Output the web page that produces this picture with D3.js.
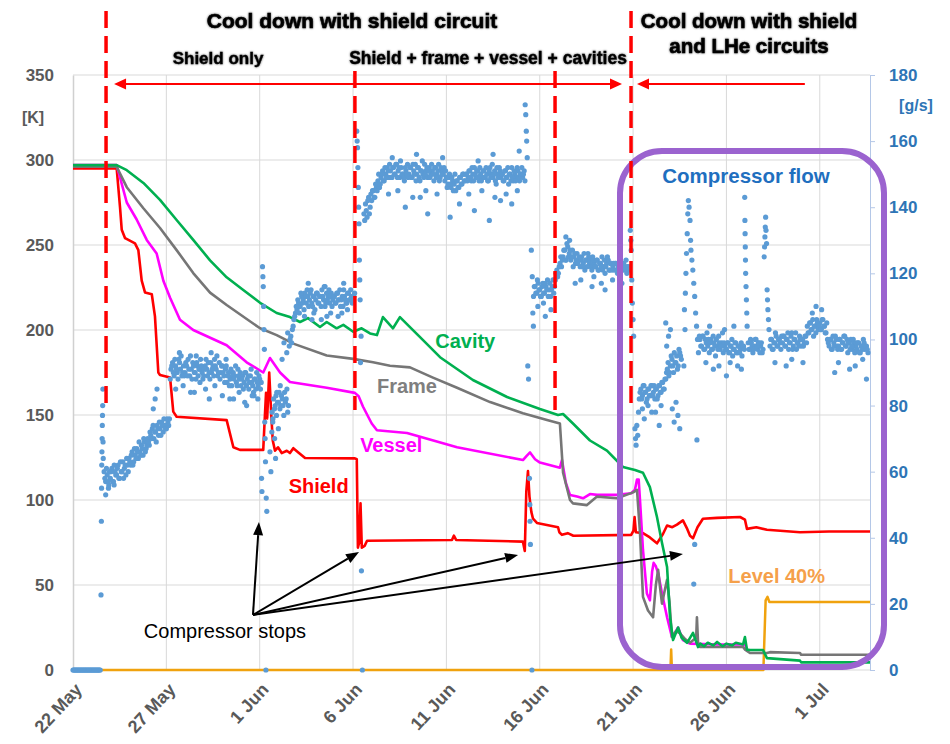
<!DOCTYPE html>
<html><head><meta charset="utf-8">
<script src="https://cdn.jsdelivr.net/npm/d3@7"></script>
<style>
html,body{margin:0;padding:0;background:#fff;}
svg{display:block;font-family:"Liberation Sans",Arial,sans-serif;}
</style></head><body>
<svg id="chart" width="950" height="744"></svg>
<script>
// ---------- time base (values below are fractional days since 22 May) ----------
const startDate = Date.UTC(2017, 4, 22);
const dayMs = 864e5;
const spanDays = 42.69;

// ---------- axis ticks ----------
const dateTicks = [0, 5, 10, 15, 20, 25, 30, 35, 40];
const dateTickLabels = ["22 May", "27 May", "1 Jun", "6 Jun", "11 Jun", "16 Jun", "21 Jun", "26 Jun", "1 Jul"];
const tempTicks = [0, 50, 100, 150, 200, 250, 300, 350];
const flowTicks = [0, 20, 40, 60, 80, 100, 120, 140, 160, 180];

// ---------- temperatures [day, K] ----------
const shield = [[0,295],[2.34,295],[2.52,272],[2.61,259],[2.79,254],[3.32,251],[3.50,247],[3.68,229],[3.86,222],[4.22,221],[4.39,208],[4.57,175],[4.66,173.5],[5.20,172],[5.37,152],[5.55,149],[8.23,147],[8.59,131],[8.94,129.5],[10.19,129.5],[10.28,150],[10.34,163],[10.40,148],[10.51,175],[10.62,150],[10.70,135],[10.82,129],[10.98,131],[11.18,127.6],[11.45,129],[11.62,127.6],[11.80,130.5],[12.07,128],[12.43,124.7],[15.10,124.5],[15.20,124],[15.26,72],[15.33,75],[15.40,98],[15.47,72],[15.62,73],[15.75,76],[20.30,76.5],[20.40,79],[20.52,76.5],[24.10,75.5],[24.20,70],[24.28,105],[24.37,117],[24.45,102],[24.55,93],[24.64,89],[24.85,86.5],[25.98,84],[26.05,81],[26.19,79.5],[26.50,80.5],[26.80,79],[29.90,79.5],[30.02,82],[30.08,90],[30.15,81],[30.53,80.5],[30.90,78],[31.28,74.5],[31.60,80],[31.82,85],[32.10,84],[32.35,85.5],[32.67,88],[32.90,83],[33.05,79],[33.21,77.5],[33.45,84],[33.74,89],[34.50,89.5],[35.73,90],[35.99,88.5],[36.10,83],[36.60,84],[37.17,82.5],[38.94,81],[40.50,81.5],[42.69,81.5]];

const vessel = [[0,297],[2.34,297],[2.88,275],[3.41,265],[3.95,253],[4.48,245],[4.84,229],[5.20,219],[5.73,206],[6.44,200],[8.23,191],[9.30,181],[10.19,175],[10.55,183.5],[11.09,175],[11.62,169.4],[13.59,166],[15.10,163],[15.30,161],[15.53,155],[16.00,145],[16.28,141],[17.89,139.4],[20.57,131],[24.10,123.5],[24.30,126],[24.48,128],[24.75,124],[25.01,122],[26.08,119],[26.19,123.5],[26.40,110],[26.62,103],[27.00,102],[27.32,101],[27.69,103.5],[28.07,103],[29.14,103],[29.90,104],[30.10,106],[30.21,112],[30.30,112],[30.37,100],[30.53,70.6],[30.74,45],[30.90,41],[31.02,58],[31.10,63],[31.22,61],[31.34,57],[31.55,45],[31.82,31],[32.08,19.4],[32.25,22],[32.41,25],[32.67,17.6],[33.05,15.5],[34.50,15],[35.99,15],[36.10,12]];

const frame = [[0,296],[2.34,296],[2.88,284],[3.77,271.6],[4.66,260],[5.55,247],[6.44,233.5],[7.34,222],[8.23,214.7],[10.02,201],[10.91,197],[11.80,192],[13.59,185],[15.01,183],[16.07,181],[16.98,179],[18.05,178],[19.28,172],[20.57,166],[22.34,157.6],[24.10,151],[25.39,147],[26.08,145],[26.25,116],[26.62,100],[26.78,98],[27.53,97],[28.07,102],[29.14,101],[30.00,104.5],[30.21,106],[30.37,80.6],[30.53,43],[30.80,35],[31.07,31],[31.22,50],[31.34,59],[31.45,48],[31.55,39],[31.70,47],[31.82,53],[31.95,40],[32.08,19.4],[32.30,23],[32.51,21.6],[32.80,18],[33.05,16],[33.38,19],[33.42,31],[33.48,16],[33.58,13.5],[35.89,13.5],[36.00,12],[36.26,10],[37.17,10],[37.33,10.5],[38.94,10],[39.00,9],[42.69,9]];

const cavity = [[0,297],[2.34,297],[2.88,294],[3.77,286.5],[4.66,276.5],[5.55,264.7],[6.44,253],[7.34,241],[8.23,231],[9.12,223.5],[10.02,216],[10.91,210],[11.62,207.6],[12.16,204.7],[12.59,207],[13.23,201.8],[13.59,204.7],[14.12,201],[14.48,203],[15.01,199],[15.46,201],[15.91,198],[16.28,197],[16.60,207.6],[17.14,201],[17.51,207.6],[18.75,194],[19.66,184],[21.42,170.6],[23.25,160.6],[25.01,153.5],[25.98,150],[26.25,150.6],[26.78,145],[27.69,135],[28.60,129],[29.46,119.4],[30.10,117.6],[30.53,116],[30.90,107.6],[31.28,90],[31.55,74.7],[31.82,60.6],[31.98,31],[32.14,17.6],[32.41,25],[32.60,19],[32.89,16],[33.21,21.8],[33.48,13.5],[33.60,15.5],[33.80,14],[34.00,16],[34.30,14.5],[34.50,16.5],[34.80,14],[35.00,15.5],[35.30,14.5],[35.50,16],[35.89,15],[35.99,19.4],[36.10,12],[36.26,11.8],[36.96,11.8],[37.17,7],[38.94,5.5],[39.00,4.5],[42.69,4.5]];

// LHe level [day, %]
const level = [[0,0],[32.00,0],[32.04,12],[32.08,0],[36.98,0],[37.10,41],[37.20,43],[37.30,40],[42.69,40]];

// ---------- compressor flow [g/s], readings every 2 h (on the even hour) ----------
const flowRows = [
  [0,0,0,0,0,0,0,0,0,0,0,0],
  [0,0,0,0,0,0,null,null,60,57,59,56],
  [58,61,57,60,59,62,58,60,63,61,59,62],
  [64,62,66,63,65,67,64,66,68,65,69,67],
  [70,68,71,73,70,72,74,71,73,75,72,74],
  [73,75,76,91,93,89,92,90,94,91,89,92],
  [90,92,94,89,91,93,90,88,92,91,94,90],
  [89,92,91,93,88,90,92,94,91,89,93,90],
  [92,89,91,87,90,88,86,90,89,87,91,88],
  [86,89,87,90,88,85,89,87,84,88,90,86],
  [88,87,null,null,0,null,null,null,78,82,80,84],
  [81,79,83,80,84,82,78,98,101,103,106,108],
  [109,111,110,113,112,114,111,113,112,115,110,113],
  [112,114,111,113,115,112,110,114,113,111,114,112],
  [113,111,114,112,110,113,115,112,111,114,112,113],
  [112,114,null,null,null,null,0,138,141,137,143,140],
  [142,145,143,146,148,146,149,151,148,150,152,149],
  [151,149,152,150,153,151,149,152,150,148,151,153],
  [150,152,149,151,153,150,152,148,151,150,153,151],
  [149,152,150,151,148,152,150,153,149,151,150,148],
  [149,147,150,146,148,147,145,148,146,149,147,150],
  [148,150,149,151,148,150,152,149,151,148,150,149],
  [151,149,150,148,152,150,149,151,147,150,152,149],
  [150,148,151,149,147,150,152,148,150,149,151,148],
  [150,149,151,null,null,null,null,0,113,116,114,117],
  [115,113,117,114,116,118,115,113,116,114,118,121],
  [120,123,122,125,127,124,128,126,124,127,125,123],
  [126,124,122,125,123,121,124,126,123,122,125,123],
  [122,124,121,123,125,122,120,123,124,121,123,122],
  [121,123,120,122,124,121,123,122,120,122,null,null],
  [null,null,null,71,82,85,83,86,84,82,85,83],
  [86,84,82,85,83,86,84,87,85,88,91,89],
  [92,94,90,93,95,92,96,94,null,null,null,null],
  [null,null,null,null,null,null,null,100,98,101,97,99],
  [98,96,100,97,99,95,98,101,97,99,96,98],
  [97,99,96,98,95,97,99,96,98,97,95,98],
  [null,null,99,97,99,96,98,100,97,99,98,96],
  [null,null,null,null,98,100,97,99,101,98,100,97],
  [99,101,98,100,97,99,102,98,100,97,99,101],
  [98,100,99,101,104,102,105,103,101,104,106,103],
  [105,103,106,104,102,100,98,100,97,99,101,98],
  [98,100,97,99,101,98,96,99,100,97,99,98],
  [97,99,96,98,100,97,98,96]
];

// ---------- compressor flow [g/s], readings every 2 h (on the odd hour) ----------
const flowRowsOdd = [
  [0,0,0,0,0,0,0,0,0,0,0,0],
  [0,0,0,0,0,0,null,null,58,61,57,60],
  [60,57,62,59,61,58,63,60,58,62,64,60],
  [63,65,62,67,64,66,69,65,67,70,66,68],
  [69,72,70,74,72,69,73,75,71,74,76,73],
  [76,74,88,92,90,94,91,88,93,95,90,89],
  [93,89,91,95,88,92,90,93,89,91,92,88],
  [91,94,89,90,93,91,89,92,95,90,88,92],
  [90,87,92,89,86,91,89,88,92,86,89,90],
  [88,85,90,86,89,87,91,86,88,85,87,89],
  [85,null,null,null,null,null,null,null,76,79,83,81],
  [84,80,82,77,81,85,80,100,99,104,107,110],
  [112,108,114,111,109,113,115,110,114,111,113,109],
  [114,111,113,110,113,116,111,112,115,113,110,113],
  [111,114,112,115,112,110,113,111,114,112,115,111],
  [113,null,null,null,null,null,null,136,139,142,138,144],
  [145,143,147,145,150,147,150,148,152,149,151,153],
  [149,152,150,153,149,152,154,150,149,152,150,149],
  [152,149,153,150,148,152,149,151,154,149,150,152],
  [151,149,153,150,152,149,151,148,152,150,152,151],
  [146,149,147,149,145,150,148,146,149,147,150,148],
  [150,148,151,149,152,148,150,151,149,152,148,151],
  [149,152,148,151,149,153,150,148,152,149,151,150],
  [148,151,149,152,150,148,149,151,148,152,149,150],
  [152,150,148,null,null,null,null,null,116,114,118,115],
  [113,116,114,117,115,113,117,115,118,116,120,119],
  [122,125,124,127,124,129,125,127,125,122,126,124],
  [123,125,124,122,126,124,122,125,124,121,124,122],
  [124,121,123,122,121,124,122,125,121,123,121,123],
  [123,121,122,120,123,122,121,124,122,121,null,null],
  [null,null,null,78,84,82,86,84,81,85,83,86],
  [83,86,85,82,86,84,87,85,88,90,93,90],
  [95,92,96,93,91,97,95,null,null,null,null,null],
  [null,null,null,null,null,null,null,98,101,97,100,102],
  [100,99,97,101,98,100,97,99,98,102,99,97],
  [99,96,98,100,97,99,96,98,96,99,98,97],
  [null,null,97,100,98,97,100,98,99,96,99,97],
  [null,null,null,null,100,97,99,102,98,100,99,101],
  [101,98,100,102,99,101,97,100,102,99,98,100],
  [100,98,101,99,102,105,103,106,104,102,105,104],
  [103,106,104,102,105,99,100,97,101,98,100,97],
  [100,97,99,101,98,100,99,97,98,100,96,99],
  [99,96,98,97,99,98,97]
];

// extra flow readings around start-up, stops, transients and band edges [day, g/s]
const flowExtra = [
  [1.50,22.7],[1.52,45],[1.53,55],[1.54,62],[1.55,66],[1.56,70],[1.57,74],[1.58,77],[1.59,80],[1.60,85],[1.61,69],[1.62,64],[1.75,53],[1.90,55],[2.20,56],
  [4.30,79],[4.40,82],[4.50,85],
  [6.50,84],[7.30,82],[8.60,82],[9.30,80],[9.70,83],
  [5.50,85],[5.90,86],[6.30,84],[6.80,87],[7.10,85],[7.60,86],[8.00,83],[8.40,82],[8.90,84],[9.20,81],[9.60,83],[9.90,82],
  [5.70,96],[6.60,95],[7.40,96],[8.20,94],
  [10.10,58],[10.12,54],[10.15,122],[10.17,119],[10.19,116],[10.21,110],[10.23,103],[10.25,97],[10.27,75],[10.29,70],[10.31,63],[10.35,52],[10.38,48],
  [10.55,66],[10.60,60],[10.65,72],[10.70,75],[10.80,70],[10.85,64],[10.90,77],[11.00,73],[11.10,86],[11.20,94],[11.30,99],[11.45,96],[11.50,102],
  [12.80,106],[13.60,107],[14.40,108],
  [12.40,107],[12.90,108],[13.30,106],[13.80,108],[14.20,107],[14.70,109],[12.60,117],[13.50,116],[14.50,117],
  [15.20,163],[15.22,160],[15.24,158],[15.26,152],[15.28,146],[15.30,140],[15.32,135],[15.34,124],[15.36,118],[15.38,112],[15.40,93],[15.43,101],[15.45,30],
  [17.80,140],[18.60,143],[19.00,138],[20.20,137],[21.50,139],[22.30,136],[22.90,142],[23.50,141],
  [16.90,144],[17.40,145],[18.20,143],[18.90,145],[19.50,144],[20.70,141],[21.20,144],[21.90,145],[22.60,143],[23.20,144],[23.80,145],
  [17.10,155],[18.40,156],[19.80,155],[21.70,154],[22.50,156],[23.90,157],
  [24.22,171],[24.25,168],[24.28,163],[24.30,160],[24.33,155],[24.36,92],[24.40,88],[24.45,58],[24.47,50],[24.48,45],[24.50,38],[24.55,127],[24.60,119],[24.63,108],[24.66,104],
  [25.30,107],[26.90,117],[27.80,116],[28.50,115],
  [24.90,110],[25.20,111],[25.60,109],[26.40,131],[26.60,130],[27.20,118],[27.90,119],[28.30,117],[28.90,118],[29.40,117],
  [29.85,133],[29.88,130],[29.90,127],[29.93,118],[29.96,111],[30.00,106],[30.03,101],[30.10,73],[30.13,70],[30.16,68],[30.20,74],
  [30.60,76],[31.00,78],[31.40,74],[30.50,79],[30.80,80],[31.20,78],[31.50,80],
  [31.75,105],[31.80,98],[31.90,101],[32.00,103],[32.10,79],[32.20,75],[32.30,81],[32.40,77],[32.50,73],
  [32.72,92],[32.75,109],[32.78,103],[32.80,114],[32.83,120],[32.86,126],[32.90,132],[32.93,138],[32.96,142],[33.00,140],[33.05,136],[33.08,130],[33.10,127],[33.15,124],[33.20,121],[33.25,117],[33.30,113],[33.35,108],[33.40,104],[33.45,100],[33.50,96],[33.55,101],[33.42,69.6],[33.30,38],[33.25,26],
  [34.30,91],[35.00,89],[35.60,92],[33.90,93],[34.60,92],[35.20,93],[35.80,91],[34.10,104],[34.90,103],[35.40,104],
  [35.98,143],[35.99,136],[36.00,132],[36.01,128],[36.02,124],[36.03,120],[36.05,116],[36.07,112],[36.09,108],[36.11,104],
  [37.02,125],[37.04,128],[37.06,131],[37.08,134],[37.10,137],[37.12,133],[37.15,129],[37.18,115],[37.20,112],[37.22,109],[37.25,106],[37.28,103],
  [38.20,92],[39.60,108],[40.80,90],[41.60,91],[42.50,88],
  [37.60,93],[38.50,94],[39.10,93],[41.00,93],[41.90,92],[42.30,94],[39.80,110],[40.10,109]
];

// ---------- phases and compressor stops ----------
const phaseDays = [1.77, 15.10, 25.82, 29.89];
const stopTips = [[9.96, 87], [15.32, 69.4], [23.84, 67.6], [32.67, 68.2]]; // [day, K]
const stopOrigin = [9.64, 32.4];

// ---------- layout ----------
const X0 = 73, X1 = 870, Y0 = 670, Y1 = 75;
const svg = d3.select("#chart");
const toDate = d => new Date(startDate + d * dayMs);
const x = d3.scaleUtc().domain([toDate(0), toDate(spanDays)]).range([X0, X1]);
const yT = d3.scaleLinear().domain([0, 350]).range([Y0, Y1]);
const yF = d3.scaleLinear().domain([0, 180]).range([Y0, Y1]);
const px = d => x(toDate(d));
const FONT = "'Liberation Sans', Arial, sans-serif";

// soft halo behind the phase headings
const defs = svg.append("defs");
const f = defs.append("filter").attr("id", "halo").attr("x", "-5%").attr("y", "-30%").attr("width", "110%").attr("height", "160%");
f.append("feGaussianBlur").attr("in", "SourceAlpha").attr("stdDeviation", 1.2).attr("result", "b");
f.append("feComponentTransfer").attr("in", "b").attr("result", "b2")
  .append("feFuncA").attr("type", "linear").attr("slope", 0.6);
const fm = f.append("feMerge");
fm.append("feMergeNode").attr("in", "b2");
fm.append("feMergeNode").attr("in", "SourceGraphic");

// ---------- grid ----------
const grid = svg.append("g");
grid.selectAll("line.h").data(tempTicks).join("line").attr("class", "h")
  .attr("x1", X0).attr("x2", X1).attr("y1", d => yT(d)).attr("y2", d => yT(d))
  .attr("stroke", "#d9d9d9").attr("stroke-width", 1);
grid.selectAll("line.v").data(dateTicks.slice(1)).join("line").attr("class", "v")
  .attr("x1", d => px(d)).attr("x2", d => px(d)).attr("y1", Y1).attr("y2", Y0)
  .attr("stroke", "#d9d9d9").attr("stroke-width", 1);

// ---------- axes ----------
const axL = svg.append("g").attr("transform", `translate(${X0},0)`)
  .call(d3.axisLeft(yT).tickValues(tempTicks).tickSize(0).tickSizeOuter(0).tickPadding(19));
axL.select(".domain").attr("stroke", "#d0d0d0").attr("stroke-width", 1.5);
axL.selectAll("text").attr("fill", "#595959").style("font", `bold 17px ${FONT}`);

const axR = svg.append("g").attr("transform", `translate(${X1},0)`)
  .call(d3.axisRight(yF).tickValues(flowTicks).tickSize(5).tickSizeOuter(0).tickPadding(14));
axR.select(".domain").attr("stroke", "#b4c7e7");
axR.selectAll(".tick line").attr("stroke", "#b4c7e7");
axR.selectAll("text").attr("fill", "#2e75b6").style("font", `bold 17px ${FONT}`);

const axB = svg.append("g").attr("transform", `translate(0,${Y0})`)
  .call(d3.axisBottom(x).tickValues(dateTicks.map(toDate)).tickFormat((d, i) => dateTickLabels[i]).tickSize(0).tickSizeOuter(0));
axB.select(".domain").remove();
axB.selectAll("text").attr("fill", "#595959").style("font", `bold 18px ${FONT}`)
  .attr("text-anchor", "end").attr("x", 0).attr("y", 0).attr("dy", "0.35em")
  .attr("transform", "translate(5,16) rotate(-47)");

svg.append("text").attr("x", 33).attr("y", 123).attr("text-anchor", "middle")
  .attr("fill", "#595959").style("font", `bold 16px ${FONT}`).text("[K]");
svg.append("text").attr("x", 916).attr("y", 111).attr("text-anchor", "middle")
  .attr("fill", "#2e75b6").style("font", `bold 16px ${FONT}`).text("[g/s]");

// ---------- temperature and level lines ----------
const line = d3.line().x(p => px(p[0])).y(p => yT(p[1]));
const series = [
  [level, "#f0a20e", 2.5],
  [shield, "#ff0000", 2.6],
  [vessel, "#ff00ff", 2.6],
  [frame, "#767676", 2.6],
  [cavity, "#00b050", 2.6]
];
svg.append("g").selectAll("path").data(series).join("path")
  .attr("d", s => line(s[0])).attr("fill", "none")
  .attr("stroke", s => s[1]).attr("stroke-width", s => s[2])
  .attr("stroke-linejoin", "round");

// ---------- compressor flow scatter ----------
const flowPts = [];
flowRows.forEach((row, day) => row.forEach((v, k) => { if (v !== null) flowPts.push([day + k / 12, v]); }));
flowRowsOdd.forEach((row, day) => row.forEach((v, k) => { if (v !== null) flowPts.push([day + k / 12 + 1 / 24, v]); }));
flowExtra.forEach(p => flowPts.push(p));
svg.append("g").selectAll("circle").data(flowPts).join("circle")
  .attr("cx", p => px(p[0])).attr("cy", p => yF(p[1])).attr("r", 2.6)
  .attr("fill", "#5b9bd5");

// ---------- series labels ----------
const labels = [
  ["Shield", 11.55, 104, "#ff0000"],
  ["Vessel", 15.38, 128.5, "#ff00ff"],
  ["Frame", 16.28, 163, "#7f7f7f"],
  ["Cavity", 19.4, 189.5, "#00b050"],
  ["Level 40%", 35.1, 51, "#f5a04a"]
];
svg.append("g").selectAll("text").data(labels).join("text")
  .attr("x", d => px(d[1])).attr("y", d => yT(d[2]))
  .attr("fill", d => d[3]).style("font", `bold 20px ${FONT}`).text(d => d[0]);

svg.append("text").attr("x", 746).attr("y", 183).attr("text-anchor", "middle")
  .attr("fill", "#1f6fbf").style("font", `bold 20.5px ${FONT}`).text("Compressor flow");

// ---------- highlight box ----------
svg.append("rect").attr("x", 620).attr("y", 151).attr("width", 264).attr("height", 516)
  .attr("rx", 42).attr("fill", "none").attr("stroke", "#9b63cf").attr("stroke-width", 6);

// ---------- phase markers ----------
const dashTop = [11, 71, 71, 11];
svg.append("g").selectAll("line").data(phaseDays).join("line")
  .attr("x1", d => px(d)).attr("x2", d => px(d))
  .attr("y1", (d, i) => dashTop[i]).attr("y2", 410)
  .attr("stroke", "#ff0000").attr("stroke-width", 3.5).attr("stroke-dasharray", "17 8");

const arrowY = 84;
const ar = svg.append("g").attr("stroke", "#ff0000").attr("fill", "#ff0000");
function head(g, xt, y, dir, len, hw) {
  g.append("path").attr("stroke", "none")
    .attr("d", `M${xt},${y} L${xt - dir * len},${y - hw} L${xt - dir * len},${y + hw} Z`);
}
const a1 = px(phaseDays[0]) + 8, a2 = px(phaseDays[3]) - 9, a3 = px(phaseDays[3]) + 6, a4 = px(39.2);
ar.append("line").attr("x1", a1 + 6).attr("x2", a2 - 6).attr("y1", arrowY).attr("y2", arrowY).attr("stroke-width", 2);
head(ar, a1, arrowY, -1, 12, 5.5);
head(ar, a2, arrowY, 1, 12, 5.5);
ar.append("line").attr("x1", a3 + 6).attr("x2", a4).attr("y1", arrowY).attr("y2", arrowY).attr("stroke-width", 2);
head(ar, a3, arrowY, -1, 12, 5.5);

// ---------- phase headings ----------
const hd = svg.append("g").attr("fill", "#000").attr("filter", "url(#halo)");
hd.append("text").attr("x", 352).attr("y", 28).attr("text-anchor", "middle")
  .style("font", `bold 21px ${FONT}`).attr("stroke", "#000").attr("stroke-width", 0.6).text("Cool down with shield circuit");
hd.append("text").attr("x", 749).attr("y", 28).attr("text-anchor", "middle")
  .style("font", `bold 20.5px ${FONT}`).attr("stroke", "#000").attr("stroke-width", 0.6).text("Cool down with shield");
hd.append("text").attr("x", 749).attr("y", 53).attr("text-anchor", "middle")
  .style("font", `bold 20.5px ${FONT}`).attr("stroke", "#000").attr("stroke-width", 0.6).text("and LHe circuits");
hd.append("text").attr("x", 218).attr("y", 64).attr("text-anchor", "middle")
  .style("font", `bold 17px ${FONT}`).attr("stroke", "#000").attr("stroke-width", 0.35).text("Shield only");
hd.append("text").attr("x", 488).attr("y", 64).attr("text-anchor", "middle")
  .style("font", `bold 17.5px ${FONT}`).attr("stroke", "#000").attr("stroke-width", 0.35).text("Shield + frame + vessel + cavities");

// ---------- compressor stop callouts ----------
const ox = px(stopOrigin[0]), oy = yT(stopOrigin[1]);
const cs = svg.append("g");
stopTips.forEach(([d, k]) => {
  const tx = px(d), ty = yT(k);
  const ang = Math.atan2(ty - oy, tx - ox);
  const len = 13, hw = 5;
  const bx = tx - len * Math.cos(ang), by = ty - len * Math.sin(ang);
  cs.append("line").attr("x1", ox).attr("y1", oy).attr("x2", bx).attr("y2", by)
    .attr("stroke", "#000").attr("stroke-width", 2);
  const nx = -Math.sin(ang) * hw, ny = Math.cos(ang) * hw;
  cs.append("path").attr("fill", "#000")
    .attr("d", `M${tx},${ty} L${bx + nx},${by + ny} L${bx - nx},${by - ny} Z`);
});
cs.append("text").attr("x", ox - 28).attr("y", oy + 23).attr("text-anchor", "middle")
  .attr("fill", "#000").style("font", `20px ${FONT}`).text("Compressor stops");
</script>
</body></html>
